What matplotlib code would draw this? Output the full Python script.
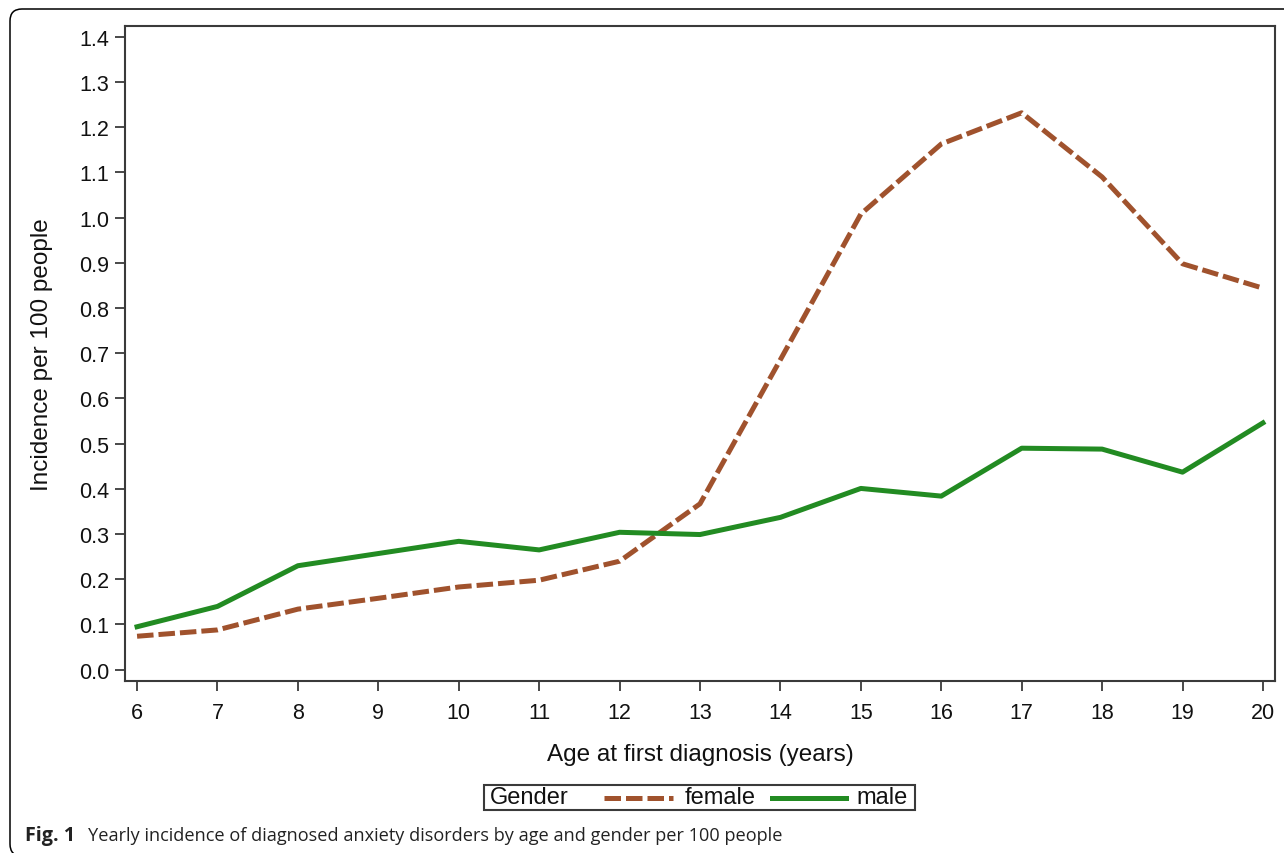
import matplotlib
matplotlib.use("Agg")
import matplotlib.pyplot as plt
from matplotlib.lines import Line2D
from matplotlib.patches import FancyBboxPatch
from matplotlib.transforms import IdentityTransform
from matplotlib.offsetbox import AnchoredOffsetbox, HPacker, TextArea, DrawingArea

# values
age = [6, 7, 8, 9, 10, 11, 12, 13, 14, 15, 16, 17, 18, 19, 20]
female = [0.074, 0.088, 0.134, 0.158, 0.183, 0.198, 0.240, 0.367, 0.686,
          1.008, 1.163, 1.232, 1.090, 0.898, 0.844]
male = [0.095, 0.140, 0.230, 0.257, 0.284, 0.265, 0.304, 0.299, 0.337,
        0.401, 0.384, 0.490, 0.488, 0.437, 0.546]
y_ticks = [0.0, 0.1, 0.2, 0.3, 0.4, 0.5, 0.6, 0.7, 0.8, 0.9, 1.0, 1.1, 1.2, 1.3, 1.4]

female_color = "#A0522D"
male_color = "#228B22"
axis_color = "#3a3a3a"
dash = (3.3, 1.0)

plt.rcParams['font.family'] = ['Liberation Sans', 'DejaVu Sans']

fig = plt.figure(figsize=(12.84, 8.54), dpi=100)
ax = fig.add_axes([125 / 1284, 1 - 682 / 854, 1150 / 1284, 655 / 854])

ax.plot(age, female, color=female_color, lw=3.6, dashes=dash, solid_joinstyle='miter')
ax.plot(age, male, color=male_color, lw=3.6)

ax.set_xlim(5.85, 20.15)
ax.set_ylim(-0.025, 1.424)
ax.set_xticks(age)
ax.set_yticks(y_ticks)
ax.set_yticklabels(["%.1f" % v for v in y_ticks])

for sp in ax.spines.values():
    sp.set_color(axis_color)
    sp.set_linewidth(1.5)
ax.tick_params(direction='out', length=7.2, width=1.3, color=axis_color,
               labelsize=15.5, labelcolor='#111111')
ax.tick_params(axis='x', pad=8)
ax.tick_params(axis='y', pad=4)

ax.set_xlabel("Age at first diagnosis (years)", fontsize=17.5, labelpad=14, color='#111111')
ax.set_ylabel("Incidence per 100 people", fontsize=17.5, labelpad=19, color='#111111')

# legend: "Gender" title inline, then the two samples
def sample(width, **kw):
    da = DrawingArea(width, 12, 0, 0)
    da.add_artist(Line2D([0, width], [6, 6], lw=3.6, **kw))
    return da

def gap(width):
    return DrawingArea(width, 1, 0, 0)

tp = dict(fontsize=17, color='#111111')
row = HPacker(children=[
    gap(4), TextArea("Gender", textprops=tp), gap(25),
    sample(49.7, color=female_color, dashes=dash, dash_capstyle='butt'), gap(8.5),
    TextArea("female", textprops=tp), gap(12),
    sample(53.3, color=male_color), gap(7),
    TextArea("male", textprops=tp), gap(5),
], align='center', pad=0, sep=0)
leg = AnchoredOffsetbox(loc='center', child=row, pad=0.05, borderpad=0, frameon=True,
                        bbox_to_anchor=(699.5 / 1284, 1 - 798.5 / 854),
                        bbox_transform=fig.transFigure, prop=dict(size=17))
leg.patch.set_edgecolor(axis_color)
leg.patch.set_linewidth(1.5)
fig.add_artist(leg)

# caption and rounded outer frame
fig.text(25 / 1284, 1 - 841 / 854, "Fig. 1", fontsize=14.2, fontweight='bold',
         family=['Open Sans', 'DejaVu Sans'], va='baseline', color='#222222')
fig.text(88 / 1284, 1 - 841 / 854,
         "Yearly incidence of diagnosed anxiety disorders by age and gender per 100 people",
         fontsize=13.1, family=['Open Sans', 'DejaVu Sans'], va='baseline', color='#222222')

frame = FancyBboxPatch((10, -3), 1320, 847, boxstyle="round,pad=0,rounding_size=12",
                       transform=IdentityTransform(), fill=False, edgecolor='black', lw=1.1)
fig.patches.append(frame)

fig.savefig("out.png", dpi=100)
